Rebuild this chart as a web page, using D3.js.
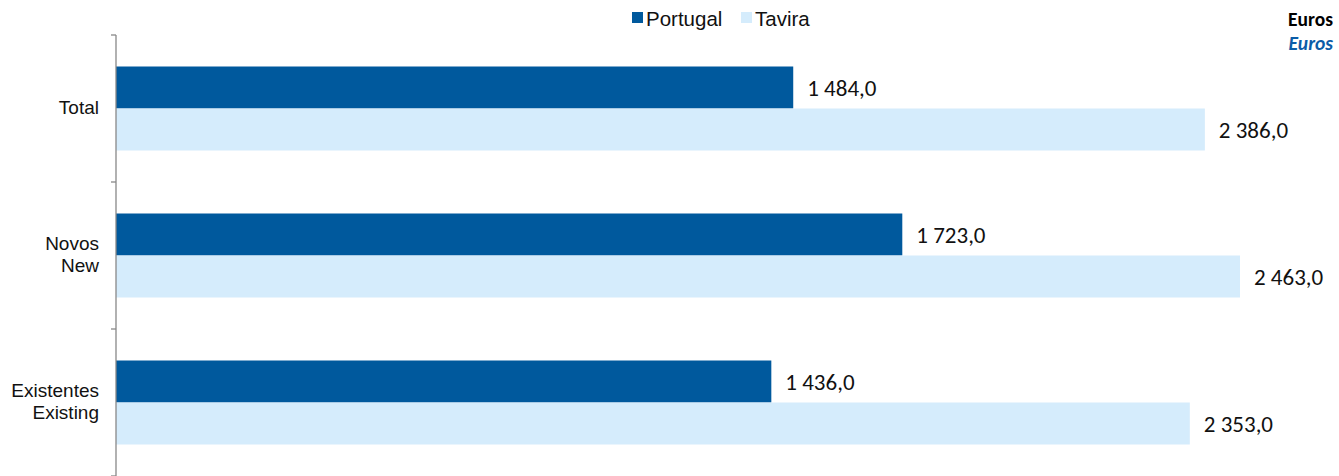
<!DOCTYPE html>
<html>
<head>
<meta charset="utf-8">
<script src="https://cdn.jsdelivr.net/npm/d3@7"></script>
<style>
  body { margin: 0; background: #fff; }
  svg { display: block; }
</style>
</head>
<body>
<div id="chart"></div>
<script>
const categories = [['Total'], ['Novos', 'New'], ['Existentes', 'Existing']]
const seriesNames = ['Portugal', 'Tavira']
const portugal = [1484.0, 1723.0, 1436.0]
const tavira = [2386.0, 2463.0, 2353.0]
const colors = ['#00599D', '#D5ECFC']

const w = 1339, h = 476
const margin = { top: 35, left: 116, bottom: 0 }

let data = categories.map((c, i) => ({ key: c.join(' '), lines: c, values: [portugal[i], tavira[i]] }))

let svg = d3.select('#chart').append('svg').attr('width', w).attr('height', h)

let y0 = d3.scaleBand().domain(data.map(d => d.key)).range([margin.top, h - margin.bottom])
  .paddingInner(0).paddingOuter(0)
let y1 = d3.scaleBand().domain(seriesNames).range([0, y0.bandwidth()]).paddingOuter(0.75).paddingInner(0)
let x = d3.scaleLinear().domain([0, 2463]).range([margin.left, 1240])

// bars
let groups = svg.selectAll('.grp').data(data).enter().append('g')
  .attr('transform', d => `translate(0, ${y0(d.key)})`)

let bars = groups.selectAll('g').data(d => d.values.map((v, i) => ({ name: seriesNames[i], value: v, i })))
  .enter().append('g')

bars.append('rect')
  .attr('x', x(0))
  .attr('y', d => y1(d.name))
  .attr('width', d => x(d.value) - x(0))
  .attr('height', y1.bandwidth())
  .attr('fill', d => colors[d.i])

bars.append('text')
  .text(d => d3.format(',.1f')(d.value).replace(',', ' ').replace('.', ','))
  .attr('x', d => x(d.value) + 14)
  .attr('y', d => y1(d.name) + y1.bandwidth() / 2)
  .attr('dy', '0.35em')
  .attr('font-family', 'Carlito, "Open Sans", sans-serif')
  .attr('font-size', 23)
  .attr('fill', '#111')

// y axis
let axis = svg.append('g').attr('stroke', '#888').attr('stroke-width', 1.3)
axis.append('line').attr('x1', margin.left).attr('x2', margin.left).attr('y1', margin.top).attr('y2', h)
let tickYs = data.map(d => y0(d.key)).concat([y0.range()[1]])
axis.selectAll('.tick').data(tickYs).enter().append('line')
  .attr('x1', margin.left - 5).attr('x2', margin.left).attr('y1', d => d).attr('y2', d => d)

// category labels
let labels = svg.selectAll('.cat').data(data).enter().append('text')
  .attr('text-anchor', 'end')
  .attr('font-family', '"Liberation Sans", Arial, sans-serif')
  .attr('font-size', 19)
  .attr('fill', '#111')
  .attr('transform', d => `translate(99, ${y0(d.key) + y0.bandwidth() / 2 - 1})`)
labels.selectAll('tspan').data(d => d.lines.map((l, i) => ({ l, i, n: d.lines.length })))
  .enter().append('tspan')
  .attr('x', 0)
  .attr('y', d => (d.i - (d.n - 1) / 2) * 22)
  .attr('dy', '0.35em')
  .text(d => d.l)

// legend
let legend = svg.selectAll('.legend').data(seriesNames).enter().append('g')
  .attr('transform', (d, i) => `translate(${632 + i * 109}, 0)`)
legend.append('rect').attr('x', 0).attr('y', 12).attr('width', 11).attr('height', 11)
  .attr('fill', (d, i) => colors[i])
legend.append('text').text(d => d).attr('x', 14).attr('y', 25.5)
  .attr('font-family', '"Liberation Sans", Arial, sans-serif')
  .attr('font-size', 20.5).attr('fill', '#111')

// unit
svg.append('text').text('Euros').attr('x', 1333).attr('y', 26).attr('text-anchor', 'end')
  .attr('font-family', 'Carlito, "Open Sans", sans-serif').attr('font-weight', 'bold')
  .attr('font-size', 19.5).attr('fill', '#000')
svg.append('text').text('Euros').attr('x', 1333).attr('y', 50).attr('text-anchor', 'end')
  .attr('font-family', 'Carlito, "Open Sans", sans-serif').attr('font-weight', 'bold').attr('font-style', 'italic')
  .attr('font-size', 19.5).attr('fill', '#0B5CA8')
</script>
</body>
</html>
